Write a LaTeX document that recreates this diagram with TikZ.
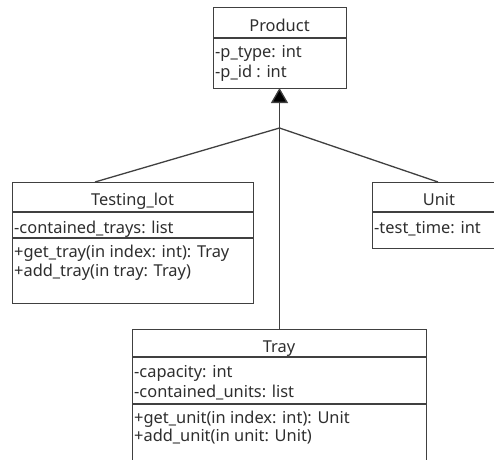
\documentclass[tikz,border=0pt]{standalone}
\usepackage{fontspec}
\setmainfont{Noto Sans}
\usetikzlibrary{arrows.meta}
\definecolor{linec}{HTML}{404040}
\definecolor{textc}{HTML}{2E2E2E}
\begin{document}
\begin{tikzpicture}[x=1pt,y=-1pt,
  ln/.style={draw=linec, line width=1.3pt},
  classbox/.style={draw=linec, line width=1.3pt, rectangle, inner sep=0pt, anchor=north west},
  txt/.style={text=textc, font=\fontsize{16.4}{19}\selectfont, inner sep=0pt, anchor=base west},
  ttl/.style={text=textc, font=\fontsize{16.4}{19}\selectfont, inner sep=0pt, anchor=base},
  gen/.style={-{Triangle[width=17pt,length=15pt,fill=black]}, draw=linec, line width=1.3pt}
]
\useasboundingbox (0,0) rectangle (494,459);
\clip (0,0) rectangle (494,459);
% Product
\node[classbox, minimum width=133pt, minimum height=81pt] (product) at (213,7) {};
\draw[ln] (213,38) -- (346,38);
\node[ttl] (productT) at (279.5,31) {Product};
\node[txt] (productA1) at (215,57) {-p\_type: int};
\node[txt] (productA2) at (215,77) {-p\_id : int};
% Testing_lot
\node[classbox, minimum width=241pt, minimum height=121pt] (lot) at (12,182) {};
\draw[ln] (12,212) -- (253,212);
\draw[ln] (12,238) -- (253,238);
\node[ttl] (lotT) at (132.5,205) {Testing\_lot};
\node[txt] (lotA1) at (14,233.5) {-contained\_trays: list};
\node[txt] (lotM1) at (14,257) {+get\_tray(in index: int): Tray};
\node[txt] (lotM2) at (14,276) {+add\_tray(in tray: Tray)};
% Unit
\node[classbox, minimum width=134pt, minimum height=66pt] (unit) at (372,182) {};
\draw[ln] (372,212) -- (506,212);
\node[ttl] (unitT) at (439,205) {Unit};
\node[txt] (unitA1) at (374,233.5) {-test\_time: int};
% Tray
\node[classbox, minimum width=294pt, minimum height=140pt] (tray) at (132,329) {};
\draw[ln] (132,357) -- (426,357);
\draw[ln] (132,404) -- (426,404);
\node[ttl] (trayT) at (279,352) {Tray};
\node[txt] (trayA1) at (134,377) {-capacity: int};
\node[txt] (trayA2) at (134,397) {-contained\_units: list};
\node[txt] (trayM1) at (134,423) {+get\_unit(in index: int): Unit};
\node[txt] (trayM2) at (134,441) {+add\_unit(in unit: Unit)};
% connectors
\coordinate (junc) at (279.5,128);
\coordinate (lotIn) at (95,182);
\coordinate (unitIn) at (438,182);
\coordinate (trayIn) at (279.5,329);
\coordinate (prodIn) at (279.5,88);
\draw[gen] (junc) -- (prodIn);
\draw[ln] (junc) -- (lotIn);
\draw[ln] (junc) -- (unitIn);
\draw[ln] (junc) -- (trayIn);
\end{tikzpicture}
\end{document}
